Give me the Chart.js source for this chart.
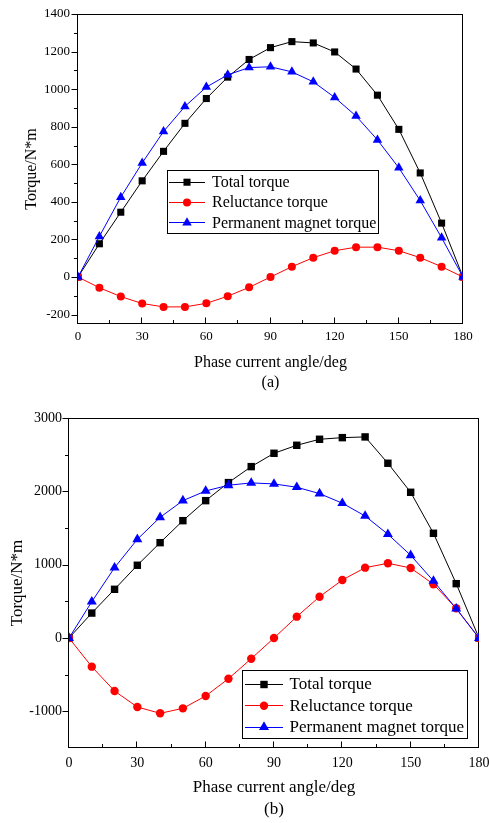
<!DOCTYPE html>
<html><head><meta charset="utf-8">
<script src="https://cdn.jsdelivr.net/npm/chart.js@4.4.1/dist/chart.umd.min.js"></script>
<style>
html,body{margin:0;padding:0;background:#fff;}
#wrap{position:relative;width:489px;height:823px;background:#fff;}
canvas{position:absolute;left:0;}
</style></head><body>
<div id="wrap">
<canvas id="ca" width="489" height="395" style="top:0px"></canvas>
<canvas id="cb" width="489" height="428" style="top:395px"></canvas>
</div>
<script>
// ---------- data ----------
const angles = [0,10,20,30,40,50,60,70,80,90,100,110,120,130,140,150,160,170,180];
const xTicks = [0,30,60,90,120,150,180];
const seriesNames = ['Total torque','Reluctance torque','Permanent magnet torque'];
const xTitle = 'Phase current angle/deg';
const yTitle = 'Torque/N*m';

// (a)
const totalA      = [0,177,345,512,669,818,950,1064,1158,1221,1253,1246,1198,1107,968,786,554,287,0];
const reluctanceA = [0,-57,-104,-141,-159,-159,-140,-102,-55,0,55,103,140,159,159,140,103,55,0];
const pmA         = [0,216,425,607,775,908,1011,1076,1115,1119,1092,1039,956,857,730,581,407,209,0];
const yTicksA     = [-200,0,200,400,600,800,1000,1200,1400];

// (b)
const totalB      = [0,340,664,992,1300,1600,1873,2119,2337,2519,2628,2710,2732,2742,2383,1987,1428,741,0];
const reluctanceB = [0,-391,-723,-941,-1027,-959,-791,-555,-282,0,291,563,791,959,1019,955,733,405,0];
const pmB         = [0,495,959,1346,1646,1873,2005,2083,2115,2101,2056,1969,1838,1664,1415,1128,778,400,0];
const yTicksB     = [-1000,0,1000,2000,3000];

// ---------- styles ----------
const FONT = "'Liberation Serif','Times New Roman',serif";
const seriesStyles = [
  {color:'#000000', style:'rect', radius:5},
  {color:'#ff0000', style:'circle', radius:4},
  {color:'#0000ff', style:'triangle', radius:5.5}
];

function drawMarker(ctx, style, r, x, y, color){
  ctx.save();
  ctx.fillStyle = color;
  ctx.beginPath();
  if (style === 'rect') {
    const s = Math.SQRT1_2 * r;
    ctx.rect(x - s, y - s, 2*s, 2*s);
  } else if (style === 'circle') {
    ctx.arc(x, y, r, 0, Math.PI*2);
  } else {
    let a = 0;
    ctx.moveTo(x + Math.sin(a)*r, y - Math.cos(a)*r);
    a += 2*Math.PI/3;
    ctx.lineTo(x + Math.sin(a)*r, y - Math.cos(a)*r);
    a += 2*Math.PI/3;
    ctx.lineTo(x + Math.sin(a)*r, y - Math.cos(a)*r);
    ctx.closePath();
  }
  ctx.fill();
  ctx.restore();
}

const framePlugin = {
  id: 'frameTicks',
  beforeDatasetsDraw(chart, args, opts) {
    const {ctx, chartArea: a, scales: {x, y}} = chart;
    ctx.save();
    ctx.strokeStyle = '#000';
    ctx.lineWidth = 1;
    const L = Math.round(a.left) - 0.5, R = Math.round(a.right) - 0.5;
    const T = Math.round(a.top) + 0.5, B = Math.round(a.bottom) - 0.5;
    ctx.strokeRect(L, T, R - L, B - T);
    ctx.beginPath();
    const xt = opts.xTicks, yt = opts.yTicks;
    xt.forEach((v, i) => {
      const px = Math.round(x.getPixelForValue(v)) - 0.5;
      ctx.moveTo(px, B); ctx.lineTo(px, B - 6);
      if (i < xt.length - 1) {
        const mx = Math.round(x.getPixelForValue((v + xt[i+1]) / 2)) - 0.5;
        ctx.moveTo(mx, B); ctx.lineTo(mx, B - 3.5);
      }
    });
    yt.forEach((v, i) => {
      const py = Math.round(y.getPixelForValue(v)) + 0.5;
      ctx.moveTo(L, py); ctx.lineTo(L - 6, py);
      if (i < yt.length - 1) {
        const my = Math.round(y.getPixelForValue((v + yt[i+1]) / 2)) + 0.5;
        ctx.moveTo(L, my); ctx.lineTo(L - 3.5, my);
      }
    });
    ctx.stroke();
    ctx.restore();
  }
};

const legendPlugin = {
  id: 'boxLegend',
  afterDraw(chart, args, o) {
    const ctx = chart.ctx;
    ctx.save();
    ctx.fillStyle = '#fff';
    ctx.fillRect(o.x, o.y, o.w, o.h);
    ctx.strokeStyle = '#000';
    ctx.lineWidth = 1;
    ctx.strokeRect(Math.round(o.x) + 0.5, Math.round(o.y) + 0.5, Math.round(o.w), Math.round(o.h));
    ctx.font = o.fontSize + 'px ' + FONT;
    ctx.textBaseline = 'middle';
    ctx.textAlign = 'left';
    chart.data.datasets.forEach((ds, i) => {
      const ry = o.y + o.first + i * o.step;
      ctx.strokeStyle = ds.borderColor;
      ctx.lineWidth = 1;
      ctx.beginPath();
      ctx.moveTo(o.x + o.l0, Math.round(ry) + 0.5);
      ctx.lineTo(o.x + o.l1, Math.round(ry) + 0.5);
      ctx.stroke();
      drawMarker(ctx, ds.pointStyle, ds.pointRadius, o.x + o.mx, ry + 0.5, ds.pointBackgroundColor);
      ctx.fillStyle = '#000';
      ctx.fillText(ds.label, o.x + o.tx, ry + 1);
    });
    ctx.restore();
  }
};

function makeChart(id, series, yTicks, yMin, yMax, L) {
  const datasets = series.map((vals, i) => ({
    label: seriesNames[i],
    data: angles.map((a, k) => ({x: a, y: vals[k]})),
    borderColor: seriesStyles[i].color,
    backgroundColor: seriesStyles[i].color,
    pointBackgroundColor: seriesStyles[i].color,
    pointBorderColor: seriesStyles[i].color,
    pointBorderWidth: 0,
    pointStyle: seriesStyles[i].style,
    pointRadius: seriesStyles[i].radius * L.ms,
    borderWidth: 1,
    tension: 0,
    order: 3 - i
  }));
  return new Chart(document.getElementById(id), {
    type: 'line',
    data: {datasets},
    plugins: [framePlugin, legendPlugin],
    options: {
      responsive: false,
      animation: false,
      events: [],
      devicePixelRatio: 1,
      layout: {padding: {top: L.top, right: L.right, left: 0, bottom: 0}},
      plugins: {
        legend: {display: false},
        tooltip: {enabled: false},
        title: {display: false},
        frameTicks: {xTicks: xTicks, yTicks: yTicks},
        boxLegend: L.legend
      },
      scales: {
        x: {
          type: 'linear', min: 0, max: 180,
          afterBuildTicks: s => { s.ticks = xTicks.map(v => ({value: v})); },
          afterFit: s => { s.height = L.xh; s.paddingLeft = 0; s.paddingRight = 0; },
          grid: {display: false, drawTicks: false},
          border: {display: false},
          ticks: {padding: L.xpad, color: '#000', font: {family: FONT, size: L.tick}, maxRotation: 0, autoSkip: false,
                  callback: v => String(v)},
          title: {display: true, text: [xTitle, L.tag], color: '#000',
                  font: {family: FONT, size: L.title, lineHeight: L.xlh},
                  padding: {top: 0, bottom: L.xtpad}}
        },
        y: {
          type: 'linear', min: yMin, max: yMax,
          afterBuildTicks: s => { s.ticks = yTicks.map(v => ({value: v})); },
          afterFit: s => { s.width = L.yw; s.paddingTop = 0; s.paddingBottom = 0; },
          grid: {display: false, drawTicks: false},
          border: {display: false},
          ticks: {padding: L.ypad, color: '#000', font: {family: FONT, size: L.tick}, autoSkip: false,
                  callback: v => String(v)},
          title: {display: true, text: yTitle, color: '#000',
                  font: {family: FONT, size: L.title, lineHeight: 1.2},
                  padding: {top: L.ytpad, bottom: 0}}
        }
      }
    }
  });
}

makeChart('ca', [totalA, reluctanceA, pmA], yTicksA, -250, 1400, {
  top: 14, right: 26, xh: 71, yw: 78, xpad: 5, ypad: 8, tick: 13, title: 16, xlh: 1.3, xtpad: 1.5, ytpad: 22.4,
  tag: '(a)', ms: 1,
  legend: {x: 167, y: 170, w: 211, h: 63, first: 11.7, step: 20.3, l0: 2, l1: 38, mx: 20, tx: 45, fontSize: 16}
});

makeChart('cb', [totalB, reluctanceB, pmB], yTicksB, -1500, 3000, {
  top: 23, right: 10, xh: 75, yw: 69, xpad: 6.5, ypad: 7, tick: 14, title: 17, xlh: 1.294, xtpad: 2, ytpad: 7.8,
  tag: '(b)', ms: 1.05,
  legend: {x: 242, y: 275, w: 225, h: 68, first: 14, step: 21.3, l0: 3, l1: 41, mx: 22, tx: 47.5, fontSize: 17}
});
</script>
</body></html>
